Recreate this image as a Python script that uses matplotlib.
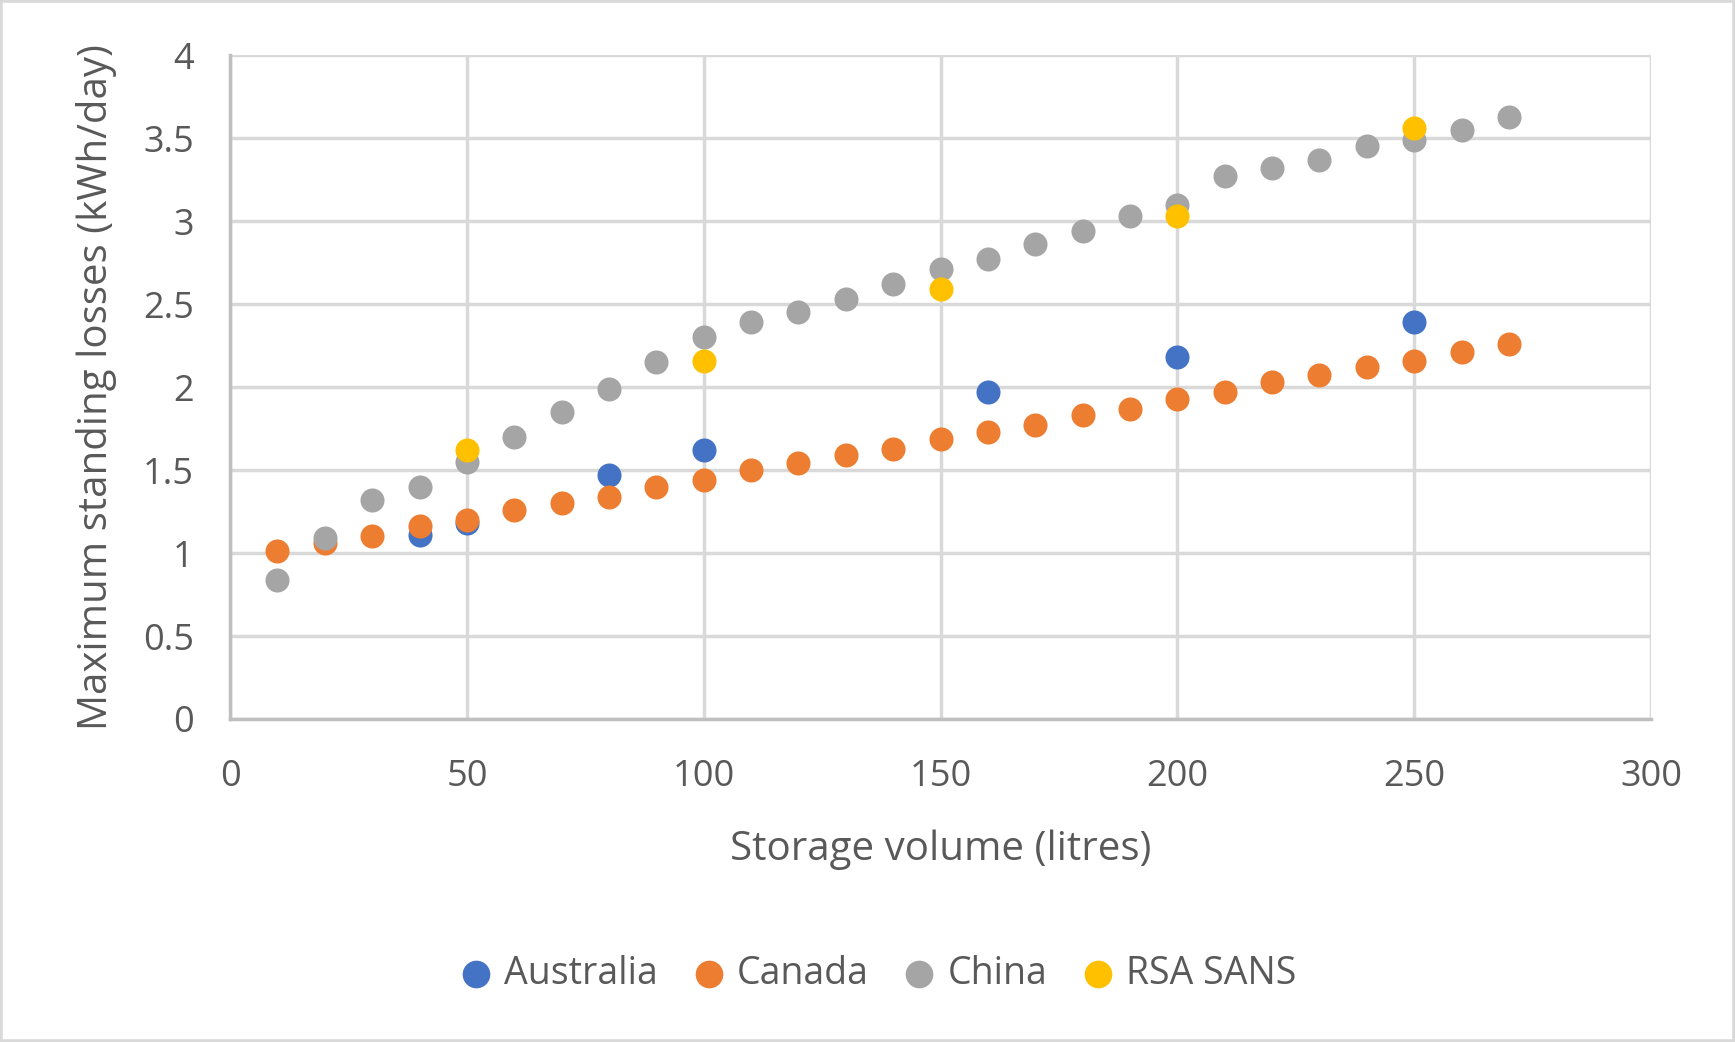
import numpy as np
import matplotlib.pyplot as plt
from matplotlib.patches import Rectangle

# storage volumes (litres)
vol_all = [10, 20, 30, 40, 50, 60, 70, 80, 90, 100, 110, 120, 130, 140, 150,
           160, 170, 180, 190, 200, 210, 220, 230, 240, 250, 260, 270]
vol_aus = [40, 50, 80, 100, 160, 200, 250]
vol_rsa = [50, 100, 150, 200, 250]

# maximum standing losses (kWh/day)
china = [0.84, 1.09, 1.32, 1.40, 1.55, 1.70, 1.85, 1.99, 2.15, 2.30, 2.39, 2.45, 2.53, 2.62,
         2.71, 2.77, 2.86, 2.94, 3.03, 3.10, 3.27, 3.32, 3.37, 3.45, 3.49, 3.55, 3.63]
canada = [1.01, 1.06, 1.10, 1.16, 1.20, 1.26, 1.30, 1.34, 1.40, 1.44, 1.50, 1.54, 1.59, 1.63,
          1.69, 1.73, 1.77, 1.83, 1.87, 1.93, 1.97, 2.03, 2.07, 2.12, 2.16, 2.21, 2.26]
australia = [1.11, 1.18, 1.47, 1.62, 1.97, 2.18, 2.39]
rsa = [1.62, 2.16, 2.59, 3.03, 3.56]

plt.rcParams['font.family'] = ['Open Sans', 'DejaVu Sans']
txt = '#595959'

fig = plt.figure(figsize=(17.35, 10.42), dpi=100)
ax = fig.add_axes([0.1326, 0.310, 0.819, 0.637])

ms = 300
ax.scatter(vol_aus, australia, s=ms, color='#4472C4', label='Australia', zorder=3, linewidths=0)
ax.scatter(vol_all, canada, s=ms, color='#ED7D31', label='Canada', zorder=4, linewidths=0)
ax.scatter(vol_all, china, s=ms, color='#A5A5A5', label='China', zorder=5, linewidths=0)
ax.scatter(vol_rsa, rsa, s=ms, color='#FFC000', label='RSA SANS', zorder=6, linewidths=0)

ax.set_xlim(0, 300)
ax.set_ylim(0, 4)
ax.set_xticks(np.arange(0, 301, 50))
ax.set_yticks(np.arange(0, 4.01, 0.5))
ax.set_yticklabels(['0', '0.5', '1', '1.5', '2', '2.5', '3', '3.5', '4'])
ax.grid(True, color='#D9D9D9', linewidth=2.5, zorder=0)
ax.set_axisbelow(True)
for s in ['top', 'right']:
    ax.spines[s].set_visible(False)
for s in ['left', 'bottom']:
    ax.spines[s].set_color('#BFBFBF')
    ax.spines[s].set_linewidth(2.5)
ax.tick_params(length=0, labelsize=26, colors=txt)
ax.tick_params(axis='x', pad=29)
ax.tick_params(axis='y', pad=26)

ax.set_xlabel('Storage volume (litres)', fontsize=29, color=txt, labelpad=25)
ax.set_ylabel('Maximum standing losses (kWh/day)', fontsize=29, color=txt, labelpad=19)

fig.legend(loc='center', bbox_to_anchor=(0.5, 0.065), ncol=4, frameon=False,
           fontsize=27, labelcolor=txt, handletextpad=-0.25, columnspacing=0.35,
           markerscale=1.15)

fig.patches.append(Rectangle((0, 0), 1, 1, transform=fig.transFigure, fill=False,
                             edgecolor='#D9D9D9', linewidth=4))

fig.savefig('out.png', dpi=100)
